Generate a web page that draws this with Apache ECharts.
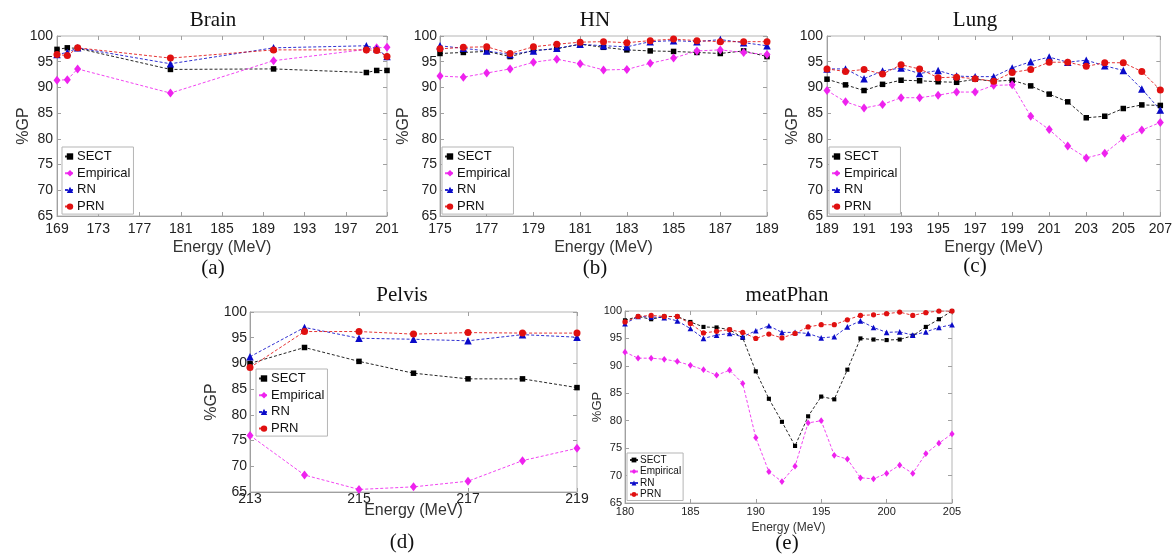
<!DOCTYPE html>
<html>
<head>
<meta charset="utf-8">
<script src="https://cdn.jsdelivr.net/npm/echarts@6/dist/echarts.min.js"></script>
<style>html,body{margin:0;padding:0;background:#fff}#c{width:1175px;height:560px}</style>
</head>
<body>
<div id="c"></div>
<script>
// ---------- data ----------
const seriesNames = ['SECT', 'Empirical', 'RN', 'PRN'];
const yTicks = [65, 70, 75, 80, 85, 90, 95, 100];

const brainE = [169, 170, 171, 180, 190, 199, 200, 201];
const brainSECT = [97.4, 97.7, 97.6, 93.5, 93.6, 92.9, 93.3, 93.3];
const brainEmp = [91.4, 91.5, 93.6, 88.9, 95.2, 97.4, 97.7, 97.8];
const brainRN = [96.4, 96.8, 97.7, 94.6, 97.7, 98.1, 97.5, 96.0];
const brainPRN = [96.4, 96.2, 97.7, 95.7, 97.3, 97.3, 97.2, 96.0];
const brainTicks = [169, 173, 177, 181, 185, 189, 193, 197, 201];

const hnE = [175, 176, 177, 178, 179, 180, 181, 182, 183, 184, 185, 186, 187, 188, 189];
const hnSECT = [96.6, 96.8, 97.0, 96.0, 97.2, 97.5, 98.4, 97.8, 97.3, 97.1, 97.0, 96.8, 96.6, 97.1, 96.0];
const hnEmp = [92.2, 92.0, 92.8, 93.6, 94.9, 95.5, 94.6, 93.4, 93.5, 94.7, 95.7, 97.1, 97.3, 96.8, 96.4];
const hnRN = [98.1, 97.6, 97.1, 96.4, 97.1, 97.6, 98.4, 98.1, 97.9, 98.9, 99.1, 98.9, 99.3, 98.7, 98.1];
const hnPRN = [97.5, 97.8, 97.9, 96.6, 97.9, 98.4, 98.8, 98.9, 98.7, 99.1, 99.4, 99.1, 98.9, 98.9, 98.9];
const hnTicks = [175, 177, 179, 181, 183, 185, 187, 189];

const lungE = [189, 190, 191, 192, 193, 194, 195, 196, 197, 198, 199, 200, 201, 202, 203, 204, 205, 206, 207];
const lungSECT = [91.6, 90.5, 89.4, 90.6, 91.4, 91.3, 91.1, 91.0, 91.6, 91.2, 91.4, 90.3, 88.7, 87.2, 84.1, 84.4, 85.9, 86.6, 86.5];
const lungEmp = [89.4, 87.2, 86.0, 86.7, 88.0, 88.0, 88.5, 89.1, 89.1, 90.4, 90.5, 84.4, 81.8, 78.6, 76.3, 77.2, 80.1, 81.7, 83.2];
const lungRN = [93.6, 93.6, 91.7, 93.2, 93.8, 92.7, 93.3, 92.2, 92.1, 92.1, 93.8, 95.0, 95.9, 94.9, 95.3, 94.2, 93.3, 89.7, 85.6];
const lungPRN = [93.6, 93.1, 93.5, 92.6, 94.4, 93.6, 91.9, 92.0, 91.7, 91.2, 92.9, 93.5, 94.9, 94.9, 94.1, 94.8, 94.8, 93.1, 89.5];
const lungTicks = [189, 191, 193, 195, 197, 199, 201, 203, 205, 207];

const pelvisE = [213, 214, 215, 216, 217, 218, 219];
const pelvisSECT = [90.0, 93.1, 90.4, 88.1, 87.0, 87.0, 85.3];
const pelvisEmp = [76.0, 68.3, 65.5, 66.0, 67.1, 71.1, 73.5];
const pelvisRN = [91.3, 97.0, 94.9, 94.7, 94.4, 95.6, 95.1];
const pelvisPRN = [89.2, 96.2, 96.2, 95.7, 96.0, 95.9, 95.9];
const pelvisTicks = [213, 215, 217, 219];

const meatE = [180, 181, 182, 183, 184, 185, 186, 187, 188, 189, 190, 191, 192, 193, 194, 195, 196, 197, 198, 199, 200, 201, 202, 203, 204, 205];
const meatSECT = [98.3, 99.0, 98.5, 99.0, 99.0, 98.0, 97.1, 97.0, 96.6, 95.1, 89.0, 84.0, 79.8, 75.4, 80.8, 84.4, 83.9, 89.3, 95.0, 94.8, 94.7, 94.8, 95.5, 97.1, 98.5, 100.0];
const meatEmp = [92.5, 91.4, 91.4, 91.2, 90.8, 90.1, 89.3, 88.3, 89.2, 86.8, 76.9, 70.7, 68.9, 71.7, 79.6, 80.0, 73.7, 73.0, 69.6, 69.4, 70.4, 71.9, 70.4, 74.0, 75.9, 77.6];
const meatRN = [97.7, 99.0, 98.9, 98.8, 98.2, 96.8, 95.0, 95.6, 95.9, 95.3, 96.4, 97.3, 96.1, 96.1, 95.9, 95.1, 95.3, 97.1, 98.2, 97.0, 96.1, 96.2, 95.6, 96.2, 97.0, 97.5];
const meatPRN = [98.0, 99.0, 99.2, 99.0, 99.0, 97.7, 96.0, 96.3, 96.6, 96.1, 95.0, 95.8, 95.1, 95.9, 97.1, 97.5, 97.5, 98.4, 99.2, 99.3, 99.5, 99.8, 99.2, 99.7, 100.0, 100.0];
const meatTicks = [180, 185, 190, 195, 200, 205];

// ---------- styling / layout ----------
const colors = ['#000000', '#ee22ee', '#0a0ac8', '#e01010'];
const symbols = ['rect', 'diamond', 'triangle', 'circle'];
const SANS = 'Liberation Sans, Arial, sans-serif';
const SERIF = 'Liberation Serif, Times New Roman, serif';
const AX = '#a0a0a0';

const panels = [
  { title: 'Brain', tag: '(a)', x: brainE, ys: [brainSECT, brainEmp, brainRN, brainPRN], ticks: brainTicks,
    grid: { left: 57, top: 36, width: 330, height: 180 }, titlePos: [213, 20], tagPos: [213, 268],
    fs: 14, nameFs: 16, xMargin: 6, xNameGap: 24, yNameGap: 25, yMargin: 4,
    legend: { left: 62, top: 147 }, legFs: 13, sym: 1 },
  { title: 'HN', tag: '(b)', x: hnE, ys: [hnSECT, hnEmp, hnRN, hnPRN], ticks: hnTicks,
    grid: { left: 440, top: 36, width: 327, height: 180 }, titlePos: [595, 20], tagPos: [595, 268],
    fs: 14, nameFs: 16, xMargin: 6, xNameGap: 24, yNameGap: 28, yMargin: 3,
    legend: { left: 442, top: 147 }, legFs: 13, sym: 1 },
  { title: 'Lung', tag: '(c)', x: lungE, ys: [lungSECT, lungEmp, lungRN, lungPRN], ticks: lungTicks,
    grid: { left: 827, top: 36, width: 336, height: 180 }, titlePos: [975, 20], tagPos: [975, 266],
    fs: 14, nameFs: 16, xMargin: 6, xNameGap: 24, yNameGap: 26, yMargin: 4,
    legend: { left: 829, top: 147 }, legFs: 13, sym: 1 },
  { title: 'Pelvis', tag: '(d)', x: pelvisE, ys: [pelvisSECT, pelvisEmp, pelvisRN, pelvisPRN], ticks: pelvisTicks,
    grid: { left: 250, top: 312, width: 327, height: 180 }, titlePos: [402, 295], tagPos: [402, 542],
    fs: 14, nameFs: 16, xMargin: 0, xNameGap: 11, yNameGap: 30, yMargin: 3,
    legend: { left: 256, top: 369 }, legFs: 13, sym: 1 },
  { title: 'meatPhan', tag: '(e)', x: meatE, ys: [meatSECT, meatEmp, meatRN, meatPRN], ticks: meatTicks,
    grid: { left: 625, top: 311, width: 327, height: 192 }, titlePos: [787, 295], tagPos: [787, 543],
    fs: 11, nameFs: 12, xMargin: 3, xNameGap: 19, yNameGap: 21.5, yMargin: 3,
    legend: { left: 627, top: 453 }, legFs: 10, sym: 0.75 }
];

const grids = [], xAxes = [], yAxes = [], series = [], legends = [], graphics = [];
panels.forEach((p, i) => {
  grids.push(Object.assign({ show: true, borderColor: '#b5b5b5', borderWidth: 1, containLabel: false }, p.grid));
  const xMin = p.ticks[0], xMax = p.ticks[p.ticks.length - 1];
  xAxes.push({
    type: 'value', gridIndex: i, min: xMin, max: xMax, position: 'bottom',
    name: 'Energy (MeV)', nameLocation: 'middle', nameGap: p.xNameGap, nameMoveOverlap: false,
    nameTextStyle: { fontFamily: SANS, fontSize: p.nameFs, color: '#333' },
    axisLine: { lineStyle: { color: AX } },
    axisTick: { inside: true, length: 4, customValues: p.ticks, lineStyle: { color: AX } },
    axisLabel: { customValues: p.ticks, margin: p.xMargin, fontFamily: SANS, fontSize: p.fs, color: '#222',
                 showMinLabel: true, showMaxLabel: true },
    splitLine: { show: false }
  });
  yAxes.push({
    type: 'value', gridIndex: i, min: yTicks[0], max: yTicks[yTicks.length - 1], interval: 5, position: 'left',
    name: '%GP', nameLocation: 'middle', nameGap: p.yNameGap, nameMoveOverlap: false,
    nameTextStyle: { fontFamily: SANS, fontSize: p.nameFs + (i === 4 ? 1 : 0), color: '#333' },
    axisLine: { show: true, lineStyle: { color: AX } },
    axisTick: { show: true, inside: true, length: 4, lineStyle: { color: AX } },
    axisLabel: { margin: p.yMargin, fontFamily: SANS, fontSize: p.fs, color: '#222' },
    splitLine: { show: false }
  });
  const legData = [];
  p.ys.forEach((vals, k) => {
    const sid = seriesNames[k] + '_' + i;
    legData.push({ name: sid });
    const sz = k === 0 ? 5.5 : (k === 1 ? [7, 9] : (k === 2 ? 7.5 : 7));
    series.push({
      type: 'line', id: sid, name: sid, xAxisIndex: i, yAxisIndex: i,
      data: p.x.map((e, j) => [e, vals[j]]),
      symbol: symbols[k],
      symbolSize: Array.isArray(sz) ? sz.map(v => v * p.sym) : sz * p.sym,
      showAllSymbol: true,
      itemStyle: { color: colors[k] },
      lineStyle: { color: colors[k], width: 1, type: [3, 2], opacity: 0.85 },
      silent: true, animation: false, z: 2 + k
    });
  });
  const small = i === 4;
  legends.push({
    orient: 'vertical', left: p.legend.left, top: p.legend.top,
    data: legData,
    formatter: n => n.split('_')[0],
    backgroundColor: '#fff', borderColor: '#b5b5b5', borderWidth: 1,
    padding: small ? [2, 2, 1, 2] : [3, 3, 1, 2],
    itemGap: small ? 1.5 : 3.7, itemWidth: small ? 8 : 10, itemHeight: small ? 6 : 8,
    textStyle: { fontFamily: SANS, fontSize: p.legFs, color: '#111', padding: [0, 0, 0, -3] },
    selectedMode: false
  });
  graphics.push({ type: 'text', x: p.titlePos[0], y: p.titlePos[1],
    style: { text: p.title, font: '21px ' + SERIF, fill: '#111', align: 'center', verticalAlign: 'middle' } });
  graphics.push({ type: 'text', x: p.tagPos[0], y: p.tagPos[1],
    style: { text: p.tag, font: '21px ' + SERIF, fill: '#111', align: 'center', verticalAlign: 'middle' } });
});

// mirror axes (top / right box ticks, MATLAB style)
panels.forEach((p, i) => {
  const xMin = p.ticks[0], xMax = p.ticks[p.ticks.length - 1];
  xAxes.push({
    type: 'value', gridIndex: i, min: xMin, max: xMax, position: 'top',
    axisLine: { show: false },
    axisTick: { show: true, inside: true, length: 4, customValues: p.ticks, lineStyle: { color: AX } },
    axisLabel: { show: false }, splitLine: { show: false }
  });
  yAxes.push({
    type: 'value', gridIndex: i, min: yTicks[0], max: yTicks[yTicks.length - 1], interval: 5, position: 'right',
    axisLine: { show: false },
    axisTick: { show: true, inside: true, length: 4, lineStyle: { color: AX } },
    axisLabel: { show: false }, splitLine: { show: false }
  });
});

const chart = echarts.init(document.getElementById('c'), null, { renderer: 'canvas' });
chart.setOption({
  animation: false,
  backgroundColor: '#ffffff',
  grid: grids, xAxis: xAxes, yAxis: yAxes, series: series, legend: legends, graphic: graphics
});
</script>
</body>
</html>
